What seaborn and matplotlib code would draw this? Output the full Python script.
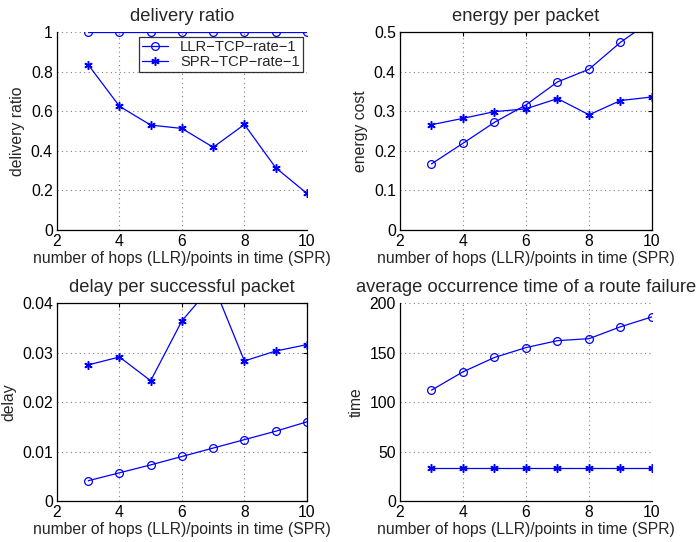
import matplotlib
matplotlib.use("Agg")
import matplotlib.pyplot as plt
import seaborn as sns
import pandas as pd

# x positions: number of hops (LLR) / points in time (SPR)
hops = [3, 4, 5, 6, 7, 8, 9, 10]

delivery_llr = [1.0, 1.0, 1.0, 1.0, 1.0, 1.0, 1.0, 1.0]
delivery_spr = [0.835, 0.625, 0.53, 0.513, 0.418, 0.533, 0.315, 0.185]

energy_llr = [0.167, 0.219, 0.272, 0.316, 0.374, 0.406, 0.474, 0.53]
energy_spr = [0.266, 0.282, 0.299, 0.306, 0.332, 0.291, 0.327, 0.336]

delay_llr = [0.0041, 0.0057, 0.0073, 0.0090, 0.0107, 0.0124, 0.0141, 0.0160]
delay_spr = [0.0275, 0.0291, 0.0243, 0.0364, 0.0438, 0.0283, 0.0303, 0.0316]

failure_llr = [112, 130.5, 145, 155, 162, 164, 176, 186]
failure_spr = [33.4, 33.4, 33.4, 33.4, 33.4, 33.4, 33.4, 33.4]

series_names = ["LLR\u2212TCP\u2212rate\u22121", "SPR\u2212TCP\u2212rate\u22121"]
xlabel_text = "number of hops (LLR)/points in time (SPR)"

panels = [
    dict(title="delivery ratio", ylabel="delivery ratio",
         llr=delivery_llr, spr=delivery_spr, ylim=(0, 1),
         yticks=[0, 0.2, 0.4, 0.6, 0.8, 1], yfmt=["0", "0.2", "0.4", "0.6", "0.8", "1"],
         box=False, legend=True),
    dict(title="energy per packet", ylabel="energy cost",
         llr=energy_llr, spr=energy_spr, ylim=(0, 0.5),
         yticks=[0, 0.1, 0.2, 0.3, 0.4, 0.5], yfmt=["0", "0.1", "0.2", "0.3", "0.4", "0.5"],
         box=True, legend=False),
    dict(title="delay per successful packet", ylabel="delay",
         llr=delay_llr, spr=delay_spr, ylim=(0, 0.04),
         yticks=[0, 0.01, 0.02, 0.03, 0.04], yfmt=["0", "0.01", "0.02", "0.03", "0.04"],
         box=True, legend=False),
    dict(title="average occurrence time of a route failure", ylabel="time",
         llr=failure_llr, spr=failure_spr, ylim=(0, 200),
         yticks=[0, 50, 100, 150, 200], yfmt=["0", "50", "100", "150", "200"],
         box=False, legend=False),
]

sns.set_style("white")
plt.rcParams["font.family"] = ["Liberation Sans", "DejaVu Sans"]
plt.rcParams["axes.unicode_minus"] = True

fig = plt.figure(figsize=(7.0, 5.42), dpi=100)

# axes rectangles in figure coordinates
rects = [
    [0.0814, 0.5756, 0.357, 0.3653],
    [0.5714, 0.5756, 0.360, 0.3653],
    [0.0814, 0.0756, 0.357, 0.3653],
    [0.5714, 0.0756, 0.360, 0.3653],
]

blue = (0, 0, 1)
fs = 11.3
asterisk = (6, 2, 0)

for rect, p in zip(rects, panels):
    ax = fig.add_axes(rect)
    df = pd.DataFrame({
        "x": hops * 2,
        "y": list(p["llr"]) + list(p["spr"]),
        "series": [series_names[0]] * len(hops) + [series_names[1]] * len(hops),
    })
    ax.grid(True, color="#808080", linestyle=(0, (1, 3)), linewidth=0.8)
    ax.set_axisbelow(True)
    d1 = df[df["series"] == series_names[0]]
    d2 = df[df["series"] == series_names[1]]
    sns.lineplot(data=d1, x="x", y="y", ax=ax, color=blue, linewidth=0.9,
                 marker="o", markersize=5.6, markerfacecolor="none",
                 markeredgecolor=blue, markeredgewidth=0.9,
                 label=series_names[0], clip_on=True)
    sns.lineplot(data=d2, x="x", y="y", ax=ax, color=blue, linewidth=0.9,
                 marker=asterisk, markersize=6, markerfacecolor=blue,
                 markeredgecolor=blue, markeredgewidth=1.1,
                 label=series_names[1], clip_on=True)
    ax.set_xlim(2, 10)
    ax.set_ylim(*p["ylim"])
    ax.set_xticks([2, 4, 6, 8, 10])
    ax.set_xticklabels(["2", "4", "6", "8", "10"])
    ax.set_yticks(p["yticks"])
    ax.set_yticklabels(p["yfmt"])
    ax.tick_params(direction="in", length=3, width=0.8, labelsize=fs,
                   colors="black", pad=3)
    ax.set_title(p["title"], fontsize=13.2, pad=8)
    ax.set_xlabel(xlabel_text, fontsize=fs, labelpad=1)
    ax.set_ylabel(p["ylabel"], fontsize=fs, labelpad=4)
    for side in ["left", "bottom"]:
        ax.spines[side].set_color("black")
        ax.spines[side].set_linewidth(0.9)
    for side in ["top", "right"]:
        ax.spines[side].set_visible(p["box"])
        ax.spines[side].set_color("black")
        ax.spines[side].set_linewidth(0.9)
    if p["box"]:
        ax.tick_params(top=True, right=True)
    if p["legend"]:
        leg = ax.legend(loc="upper right", bbox_to_anchor=(0.984, 0.975),
                        fontsize=10.6, frameon=True, fancybox=False,
                        borderpad=0.2, handlelength=1.8, handletextpad=0.8,
                        labelspacing=0.1, borderaxespad=0.0)
        leg.get_frame().set_edgecolor("black")
        leg.get_frame().set_linewidth(0.9)
    else:
        lg = ax.get_legend()
        if lg is not None:
            lg.remove()

fig.savefig("out.png", dpi=100)
